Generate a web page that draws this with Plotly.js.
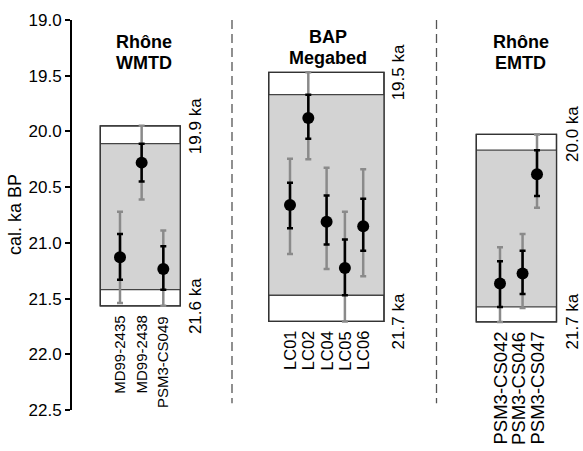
<!DOCTYPE html>
<html>
<head>
<meta charset="utf-8">
<script src="https://cdn.plot.ly/plotly-3.0.1.min.js"></script>
<style>html,body{margin:0;padding:0;background:#fff;}#chart{width:583px;height:451px;}</style>
</head>
<body>
<div id="chart"></div>
<script>
// ---------------- data ----------------
const panelTitles = [["Rhône", "WMTD"], ["BAP", "Megabed"], ["Rhône", "EMTD"]];
const yTickVals = [19.0, 19.5, 20.0, 20.5, 21.0, 21.5, 22.0, 22.5];
const yTitle = "cal. ka BP";

const wmtdNames = ["MD99-2435", "MD99-2438", "PSM3-CS049"];
const wmtdPos   = [0, 1, 2];
const wmtdMean  = [21.13, 20.28, 21.235];
const wmtd1Lo   = [20.92, 20.11, 21.03];
const wmtd1Hi   = [21.33, 20.45, 21.42];
const wmtd2Lo   = [20.72, 19.95, 20.89];
const wmtd2Hi   = [21.54, 20.61, 21.565];

const bapNames = ["LC01", "LC02", "LC04", "LC05", "LC06"];
const bapPos   = [0, 1, 2, 3, 4];
const bapMean  = [20.66, 19.88, 20.81, 21.225, 20.85];
const bap1Lo   = [20.46, 19.67, 20.575, 20.97, 20.605];
const bap1Hi   = [20.87, 20.065, 21.015, 21.47, 21.07];
const bap2Lo   = [20.245, 19.47, 20.325, 20.72, 20.34];
const bap2Hi   = [21.10, 20.25, 21.235, 21.705, 21.30];

const emtdNames = ["PSM3-CS042", "PSM3-CS046", "PSM3-CS047"];
const emtdPos   = [0, 1.22, 2];
const emtdMean  = [21.365, 21.275, 20.385];
const emtd1Lo   = [21.165, 21.07, 20.168];
const emtd1Hi   = [21.575, 21.46, 20.58];
const emtd2Lo   = [21.04, 20.92, 20.027];
const emtd2Hi   = [21.71, 21.585, 20.685];

const topLabels    = ["19.9 ka", "19.5 ka", "20.0 ka"];
const bottomLabels = ["21.6 ka", "21.7 ka", "21.7 ka"];

// ---------------- layout helpers ----------------
const L = 72, PW = 511, T = 20, PH = 390;
const pxX = px => (px - L) / PW;
const pxY = py => 1 - (py - T) / PH;
const FONT = "Liberation Sans, Arial, sans-serif";

const panels = [
  {ax: "x",  names: wmtdNames, pos: wmtdPos, mean: wmtdMean, lo1: wmtd1Lo, hi1: wmtd1Hi, lo2: wmtd2Lo, hi2: wmtd2Hi,
   firstPx: 120, step: 21.65, span: [72, 232], box: [100.3, 180.3], titleX: 144, titleY: [42, 62.5], catFont: 15, kaFont: 17, kaShift: 16},
  {ax: "x2", names: bapNames, pos: bapPos, mean: bapMean, lo1: bap1Lo, hi1: bap1Hi, lo2: bap2Lo, hi2: bap2Hi,
   firstPx: 290, step: 18.3, span: [232, 436.5], box: [268.7, 384], titleX: 328, titleY: [37, 57.5], catFont: 16.5, kaFont: 17, kaShift: 14},
  {ax: "x3", names: emtdNames, pos: emtdPos, mean: emtdMean, lo1: emtd1Lo, hi1: emtd1Hi, lo2: emtd2Lo, hi2: emtd2Hi,
   firstPx: 500, step: 18.5, span: [436.5, 583], box: [476.3, 556.5], titleX: 520.5, titleY: [42, 62.5], catFont: 18.5, kaFont: 17, kaShift: 16}
];

const traces = [];
const shapes = [];
const annotations = [];
const layout = {
  width: 583, height: 451,
  margin: {l: L, r: 0, t: T, b: 451 - T - PH, pad: 0},
  paper_bgcolor: "#ffffff", plot_bgcolor: "#ffffff",
  showlegend: false,
  font: {family: FONT, size: 16, color: "#000"},
  yaxis: {
    range: [22.5, 19.0], tickvals: yTickVals, ticktext: yTickVals.map(v => v.toFixed(1)),
    showline: true, linecolor: "#000", linewidth: 2, ticks: "outside", ticklen: 5, tickwidth: 2, tickcolor: "#000",
    showgrid: false, zeroline: false, tickfont: {family: FONT, size: 17, color: "#000"}, fixedrange: true
  }
};

panels.forEach((p, k) => {
  const axName = k === 0 ? "xaxis" : "xaxis" + (k + 1);
  layout[axName] = {
    domain: [pxX(p.span[0]), pxX(p.span[1])],
    range: [(p.span[0] - p.firstPx) / p.step, (p.span[1] - p.firstPx) / p.step],
    visible: false, fixedrange: true, anchor: "y"
  };
  const bx0 = (p.box[0] - p.firstPx) / p.step, bx1 = (p.box[1] - p.firstPx) / p.step;
  const outerTop = Math.min(...p.lo2), outerBot = Math.max(...p.hi2);
  const innerTop = Math.min(...p.lo1), innerBot = Math.max(...p.hi1);
  shapes.push({type: "rect", xref: p.ax, yref: "y", x0: bx0, x1: bx1, y0: outerTop, y1: outerBot,
    fillcolor: "#ffffff", line: {color: "#333", width: 1.3}, layer: "below"});
  shapes.push({type: "rect", xref: p.ax, yref: "y", x0: bx0, x1: bx1, y0: innerTop, y1: innerBot,
    fillcolor: "#d3d3d3", line: {width: 0}, layer: "below"});
  [innerTop, innerBot].forEach(v => shapes.push({type: "line", xref: p.ax, yref: "y", x0: bx0, x1: bx1, y0: v, y1: v,
    line: {color: "#444", width: 1.3}, layer: "below"}));
  shapes.push({type: "rect", xref: p.ax, yref: "y", x0: bx0, x1: bx1, y0: outerTop, y1: outerBot,
    fillcolor: "rgba(0,0,0,0)", line: {color: "#333", width: 1.3}, layer: "below"});

  // 2-sigma (grey)
  traces.push({type: "scatter", mode: "markers", xaxis: p.ax, yaxis: "y", x: p.pos, y: p.mean,
    marker: {size: 1, color: "rgba(0,0,0,0)"}, hoverinfo: "skip",
    error_y: {type: "data", symmetric: false,
      array: p.hi2.map((v, i) => v - p.mean[i]), arrayminus: p.mean.map((m, i) => m - p.lo2[i]),
      color: "#8a8a8a", thickness: 2.5, width: 3}});
  // 1-sigma (black) + points
  traces.push({type: "scatter", mode: "markers", xaxis: p.ax, yaxis: "y", x: p.pos, y: p.mean,
    marker: {size: 12, color: "#000"}, hoverinfo: "skip",
    error_y: {type: "data", symmetric: false,
      array: p.hi1.map((v, i) => v - p.mean[i]), arrayminus: p.mean.map((m, i) => m - p.lo1[i]),
      color: "#000", thickness: 2.5, width: 3}});

  // titles
  panelTitles[k].forEach((t, j) => annotations.push({xref: "paper", yref: "paper", x: pxX(p.titleX), y: pxY(p.titleY[j]),
    text: "<b>" + t + "</b>", showarrow: false, xanchor: "center", yanchor: "middle",
    font: {family: FONT, size: 18, color: "#000"}}));
  // ka labels
  annotations.push({xref: p.ax, yref: "y", x: bx1, y: outerTop, xshift: p.kaShift, text: topLabels[k], showarrow: false,
    textangle: -90, xanchor: "center", yanchor: "middle", font: {family: FONT, size: p.kaFont, color: "#000"}});
  annotations.push({xref: p.ax, yref: "y", x: bx1, y: outerBot, xshift: p.kaShift, text: bottomLabels[k], showarrow: false,
    textangle: -90, xanchor: "center", yanchor: "middle", font: {family: FONT, size: p.kaFont, color: "#000"}});
  // category labels
  p.names.forEach((n, i) => annotations.push({xref: p.ax, yref: "y", x: i, y: outerBot, yshift: -8, text: n,
    showarrow: false, textangle: -90, xanchor: "center", yanchor: "top",
    font: {family: FONT, size: p.catFont, color: "#000"}}));
});

// dashed separators
[232, 436.5].forEach(px => shapes.push({type: "line", xref: "paper", yref: "y", x0: pxX(px), x1: pxX(px), y0: 19.0, y1: 22.44,
  line: {color: "#555", width: 1.3, dash: "9px,5px"}}));

// y title
annotations.push({xref: "paper", yref: "paper", x: pxX(15), y: 0.5, text: yTitle, showarrow: false, textangle: -90,
  xanchor: "center", yanchor: "middle", font: {family: FONT, size: 18, color: "#000"}});

layout.shapes = shapes;
layout.annotations = annotations;
Plotly.newPlot("chart", traces, layout, {staticPlot: true, displayModeBar: false});
</script>
</body>
</html>
